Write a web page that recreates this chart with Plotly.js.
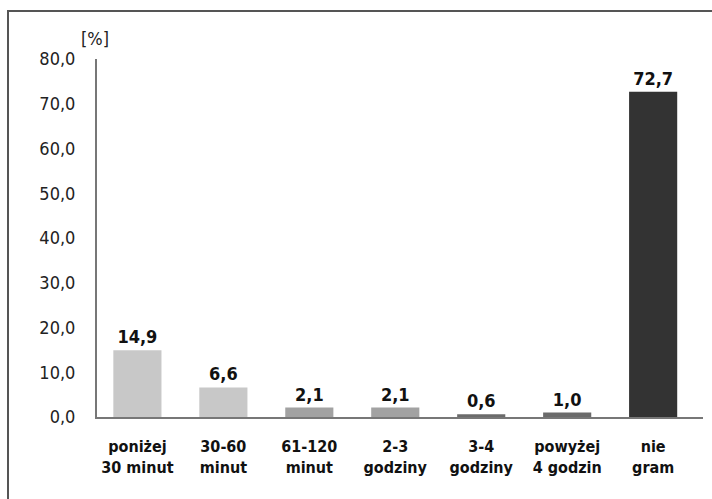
<!DOCTYPE html>
<html>
<head>
<meta charset="utf-8">
<script src="https://cdn.plot.ly/plotly-3.0.1.min.js"></script>
<style>
html,body{margin:0;padding:0;background:#fff;}
#wrap{position:relative;width:712px;height:499px;}
#chart{width:712px;height:499px;}
#frame{position:absolute;left:7px;top:10px;width:705px;height:489px;border-top:2px solid #555;border-left:2px solid #555;pointer-events:none;}
</style>
</head>
<body>
<div id="wrap"><div id="chart"></div><div id="frame"></div></div>
<script>
const categories = ["poniżej<br>30 minut", "30-60<br>minut", "61-120<br>minut", "2-3<br>godziny", "3-4<br>godziny", "powyżej<br>4 godzin", "nie<br>gram"];
const values = [14.9, 6.6, 2.1, 2.1, 0.6, 1.0, 72.7];
const barColors = ["#c8c8c8", "#c8c8c8", "#a2a2a2", "#a2a2a2", "#6b6b6b", "#6b6b6b", "#333333"];
const yTicks = [0, 10, 20, 30, 40, 50, 60, 70, 80];
const unitLabel = "[%]";

const fontFam = '"DejaVu Sans Condensed", "Liberation Sans Narrow", Arial, sans-serif';

const trace = {
  type: 'bar',
  x: categories.map((c, i) => i),
  y: values,
  marker: {color: barColors, line: {width: 0}},
  width: 0.56,
  text: values.map(v => v.toFixed(1).replace('.', ',')),
  textposition: 'outside',
  cliponaxis: false,
  textfont: {family: fontFam, size: 18, color: '#111', weight: 'bold'},
  hoverinfo: 'none'
};

const layout = {
  width: 712, height: 499,
  margin: {l: 97, r: 9, t: 59, b: 82},
  paper_bgcolor: '#fff', plot_bgcolor: '#fff',
  separators: ',.',
  showlegend: false,
  xaxis: {
    range: [-0.47, 6.58],
    tickmode: 'array',
    tickvals: categories.map((c, i) => i),
    ticktext: categories,
    showline: true, linecolor: '#777', linewidth: 2,
    showgrid: false, zeroline: false, ticks: '',
    ticklabelstandoff: 14,
    tickfont: {family: fontFam, size: 16, color: '#111', weight: 'bold'}
  },
  yaxis: {
    range: [0, 80],
    tickmode: 'array',
    tickvals: yTicks,
    tickformat: '.1f',
    showline: true, linecolor: '#777', linewidth: 2,
    showgrid: false, zeroline: false, ticks: '',
    ticklabelstandoff: 16,
    tickfont: {family: fontFam, size: 18, color: '#222'}
  },
  annotations: [{
    text: unitLabel, xref: 'paper', yref: 'paper', x: 0, y: 1,
    xanchor: 'right', yanchor: 'bottom', yshift: 8, xshift: 14, showarrow: false,
    font: {family: fontFam, size: 18, color: '#222'}
  }]
};

Plotly.newPlot('chart', [trace], layout, {displayModeBar: false, staticPlot: true});
</script>
</body>
</html>
